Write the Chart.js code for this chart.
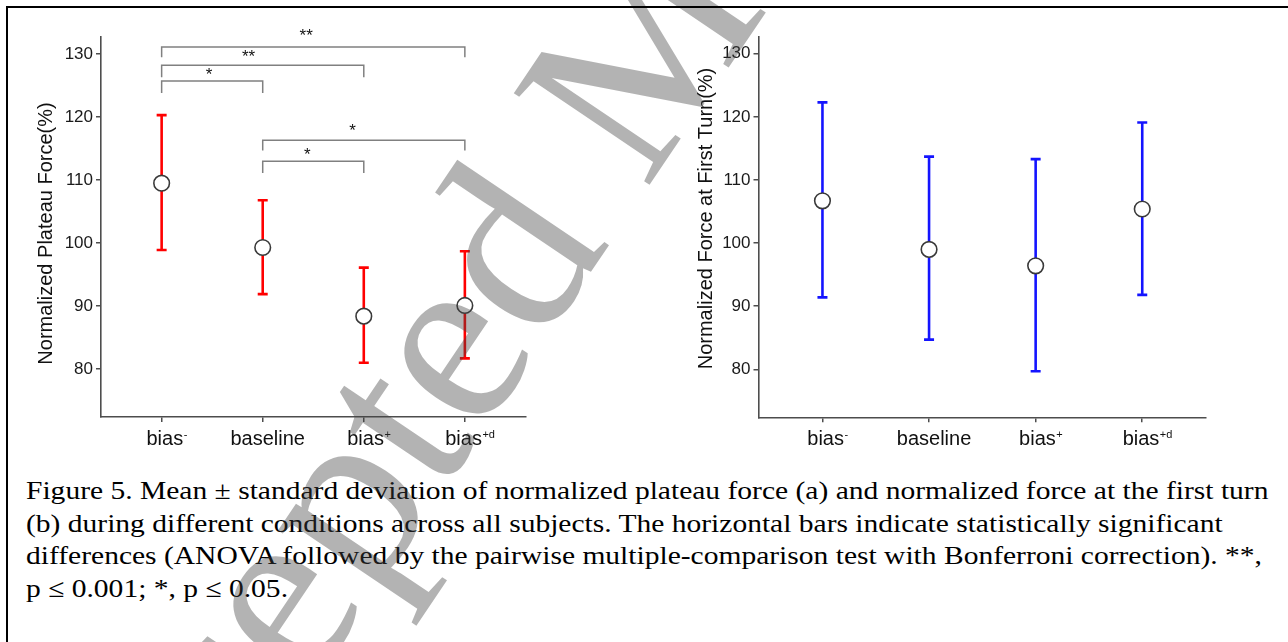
<!DOCTYPE html>
<html>
<head>
<meta charset="utf-8">
<script src="https://cdn.jsdelivr.net/npm/chart.js@4.4.1/dist/chart.umd.min.js"></script>
<style>
  html, body { margin: 0; padding: 0; background: #fff; }
  body { width: 1288px; height: 642px; position: relative; overflow: hidden; }
  .panel { position: absolute; top: 0; }
  #caption {
    position: absolute; left: 26px; top: 475px;
    font-family: "Liberation Serif", "Times New Roman", serif;
    font-size: 26px; line-height: 32.7px; white-space: nowrap; color: #000;
    transform-origin: 0 0;
  }
  #caption span { display: inline-block; }
  #watermark { position: absolute; left: 0; top: 0; pointer-events: none; z-index: 5; }
  .frame { position: absolute; background: #000; z-index: 6; }
</style>
</head>
<body>
<canvas id="plateauChart" class="panel" width="640" height="460" style="left:0"></canvas>
<canvas id="firstTurnChart" class="panel" width="648" height="460" style="left:640px"></canvas>
<div id="caption"><span>Figure 5. Mean ± standard deviation of normalized plateau force (a) and normalized force at the first turn</span><br><span>(b) during different conditions across all subjects. The horizontal bars indicate statistically significant</span><br><span id="capWide">differences (ANOVA followed by the pairwise multiple-comparison test with Bonferroni correction). **,</span><br><span>p ≤ 0.001; *, p ≤ 0.05.</span></div>
<canvas id="watermark" width="1288" height="642"></canvas>
<div class="frame" style="left:6px;top:6px;width:1282px;height:2px"></div>
<div class="frame" style="left:6px;top:6px;width:2px;height:636px"></div>
<script>
const conditionBase = ["bias", "baseline", "bias", "bias"];
const conditionSup = ["-", "", "+", "+d"];
const yTicks = [80, 90, 100, 110, 120, 130];

const plateauMean = [109.5, 99.3, 88.4, 90.1];
const plateauUpper = [120.3, 106.8, 96.1, 98.7];
const plateauLower = [98.9, 91.9, 81.0, 81.7];

const firstTurnMean = [106.7, 99.0, 96.4, 105.4];
const firstTurnUpper = [122.3, 113.7, 113.3, 119.1];
const firstTurnLower = [91.4, 84.7, 79.7, 91.8];

// significance brackets on the plateau panel
const sigFrom = [0, 0, 0, 1, 1];
const sigTo = [3, 2, 1, 3, 2];
const sigTop = [131.1, 128.2, 125.7, 116.3, 113.0];
const sigLeg = [129.5, 126.3, 123.8, 114.7, 111.1];
const sigMark = ["**", "**", "*", "*", "*"];
const sigMarkX = [1.43, 0.86, 0.47, 1.89, 1.44];
const sigMarkY = [133.6, 130.2, 127.4, 118.5, 114.7];

const FONT = "'Liberation Sans', Arial, sans-serif";
Chart.defaults.font.family = FONT;

const barSegments = (lower, upper) => {
  const pts = [];
  lower.forEach((lo, i) => {
    pts.push({ x: i, y: lo }, { x: i, y: upper[i] }, { x: i, y: null });
  });
  return pts;
};

const capPoints = (lower, upper) => {
  const pts = [];
  lower.forEach((lo, i) => pts.push({ x: i, y: lo }, { x: i, y: upper[i] }));
  return pts;
};

const bracketPath = () => {
  const pts = [];
  sigFrom.forEach((a, k) => {
    const b = sigTo[k];
    pts.push(
      { x: a, y: sigLeg[k] },
      { x: a, y: sigTop[k] },
      { x: b, y: sigTop[k] },
      { x: b, y: sigLeg[k] },
      { x: b, y: null }
    );
  });
  return pts;
};

const axisText = {
  id: "axisText",
  afterDraw(chart, args, opts) {
    const { ctx } = chart;
    const x = chart.scales.x;
    ctx.save();
    ctx.fillStyle = "#111";
    ctx.textBaseline = "alphabetic";
    ctx.textAlign = "left";
    conditionBase.forEach((base, i) => {
      ctx.font = "20px " + FONT;
      const wb = ctx.measureText(base).width;
      ctx.font = "11px " + FONT;
      const ws = ctx.measureText(conditionSup[i]).width;
      const left = x.getPixelForValue(i) + 5 - (wb + ws) / 2;
      ctx.font = "20px " + FONT;
      ctx.fillText(base, left, 445);
      ctx.font = "11px " + FONT;
      ctx.fillText(conditionSup[i], left + wb + 0.5, 438);
    });
    ctx.translate(opts.titleX, opts.titleY);
    ctx.rotate(-Math.PI / 2);
    ctx.textAlign = "center";
    ctx.textBaseline = "middle";
    ctx.font = "20px " + FONT;
    ctx.fillText(opts.title, 0, 0);
    ctx.restore();
  },
};

const sigText = {
  id: "sigText",
  afterDraw(chart) {
    const { ctx, scales: { x, y } } = chart;
    ctx.save();
    ctx.fillStyle = "#111";
    ctx.font = "17px " + FONT;
    ctx.textAlign = "center";
    ctx.textBaseline = "middle";
    sigMark.forEach((m, k) => {
      ctx.fillText(m, x.getPixelForValue(sigMarkX[k]), y.getPixelForValue(sigMarkY[k]) + 5);
    });
    ctx.restore();
  },
};

const makeChart = (canvas, cfg) => {
  const axisGrid = {
    display: true,
    drawOnChartArea: false,
    drawTicks: true,
    tickLength: 5,
    color: "#4d4d4d",
    lineWidth: 1.5,
  };
  const datasets = [
    {
      label: "mean",
      data: cfg.mean.map((v, i) => ({ x: i, y: v })),
      pointStyle: "circle",
      pointRadius: 7.8,
      pointBackgroundColor: "#fff",
      pointBorderColor: "#3a3a3a",
      pointBorderWidth: 1.6,
      showLine: false,
    },
    {
      label: "caps",
      data: capPoints(cfg.lower, cfg.upper),
      pointStyle: "line",
      pointRadius: 5,
      pointBorderColor: cfg.color,
      pointBorderWidth: 2.6,
      showLine: false,
    },
    {
      label: "sd",
      data: barSegments(cfg.lower, cfg.upper),
      borderColor: cfg.color,
      borderWidth: 2.6,
      pointRadius: 0,
      showLine: true,
      spanGaps: false,
    },
  ];
  if (cfg.brackets) {
    datasets.push({
      label: "brackets",
      data: bracketPath(),
      borderColor: "#808080",
      borderWidth: 1.5,
      pointRadius: 0,
      showLine: true,
      spanGaps: false,
      clip: false,
    });
  }
  return new Chart(canvas, {
    type: "scatter",
    data: { datasets },
    options: {
      responsive: false,
      animation: false,
      events: [],
      layout: { padding: { left: 0, top: cfg.top, right: cfg.right, bottom: 0 } },
      plugins: {
        legend: { display: false },
        tooltip: { enabled: false },
        axisText: { title: cfg.title, titleX: cfg.titleX, titleY: cfg.titleY },
      },
      scales: {
        x: {
          type: "linear",
          min: -0.6,
          max: 3.6,
          afterBuildTicks: (s) => {
            s.ticks = conditionBase.map((_, i) => ({ value: i }));
          },
          afterFit: (s) => {
            s.height = 460 - cfg.bottom;
          },
          ticks: { callback: () => "" },
          grid: axisGrid,
          border: { display: true, color: "#4d4d4d", width: 1.6 },
        },
        y: {
          type: "linear",
          min: 72.4,
          max: 132.7,
          afterBuildTicks: (s) => {
            s.ticks = yTicks.map((v) => ({ value: v }));
          },
          afterFit: (s) => {
            s.width = cfg.left;
          },
          ticks: { font: { size: 17 }, color: "#1a1a1a", padding: 3 },
          grid: axisGrid,
          border: { display: true, color: "#4d4d4d", width: 1.6 },
        },
      },
    },
    plugins: cfg.brackets ? [axisText, sigText] : [axisText],
  });
};

makeChart(document.getElementById("plateauChart"), {
  mean: plateauMean,
  upper: plateauUpper,
  lower: plateauLower,
  color: "#ff0000",
  brackets: true,
  left: 101,
  right: 640 - 525.5,
  top: 37,
  bottom: 417,
  title: "Normalized Plateau Force(%)",
  titleX: 46.7,
  titleY: 233.5,
});

makeChart(document.getElementById("firstTurnChart"), {
  mean: firstTurnMean,
  upper: firstTurnUpper,
  lower: firstTurnLower,
  color: "#1414ff",
  brackets: false,
  left: 118.5,
  right: 648 - 566.2,
  top: 36.7,
  bottom: 417.3,
  title: "Normalized Force at First Turn(%)",
  titleX: 66.7,
  titleY: 218.5,
});

// the caption is set wide in the source: stretch it so the third line ends at x = 1262
const caption = document.getElementById("caption");
const wide = document.getElementById("capWide").getBoundingClientRect().width;
caption.style.transform = "scaleX(" + (1236 / wide).toFixed(4) + ")";

// "Accepted Manuscript" watermark laid over the page
const wm = document.getElementById("watermark").getContext("2d");
const wmSize = 250;
wm.font = wmSize + "px 'Liberation Serif', 'Times New Roman', serif";
wm.fillStyle = "rgba(64, 64, 64, 0.4)";
wm.translate(462, 360);
wm.rotate((-56 * Math.PI) / 180);
const offset = wm.measureText("Accept").width + wm.measureText("e").width / 2;
wm.fillText("Accepted Manuscript", -offset, 0.23 * wmSize);
</script>
</body>
</html>
